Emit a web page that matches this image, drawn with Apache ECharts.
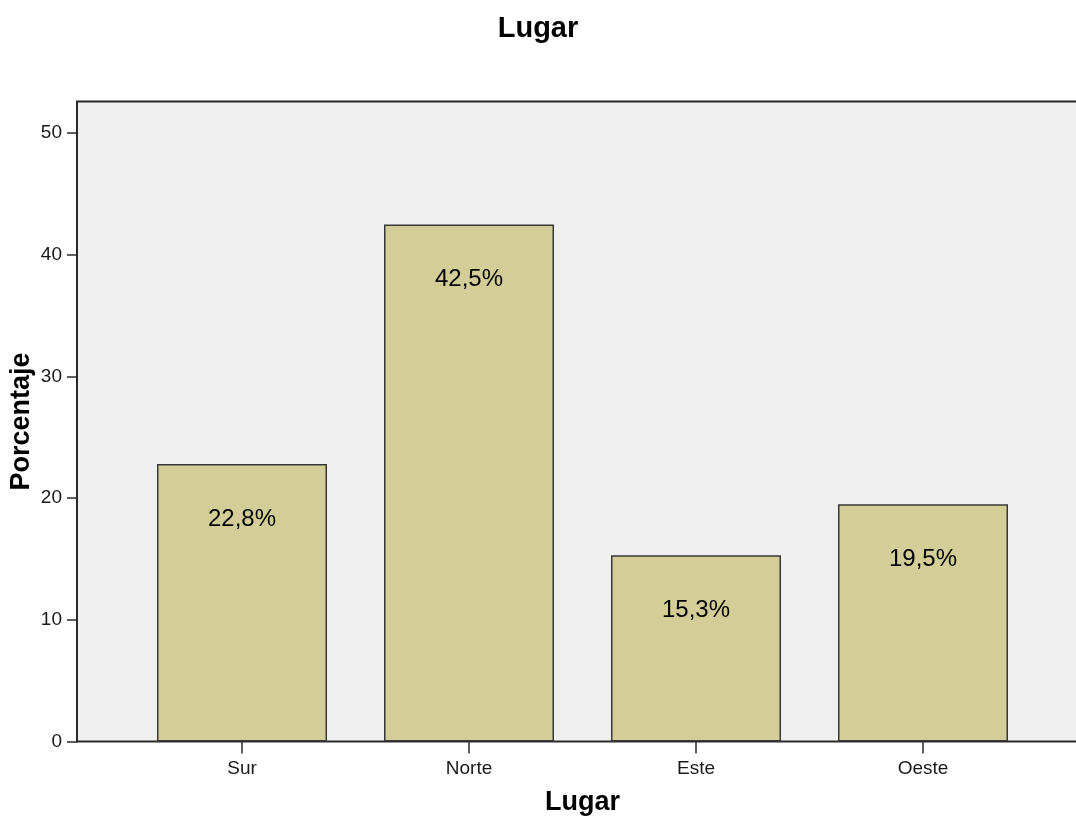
<!DOCTYPE html>
<html>
<head>
<meta charset="utf-8">
<title>Lugar</title>
<script src="https://cdn.jsdelivr.net/npm/echarts@6/dist/echarts.min.js"></script>
<style>
  html, body { margin: 0; padding: 0; background: #ffffff; }
  #chart { width: 1076px; height: 818px; }
</style>
</head>
<body>
<div id="chart"></div>
<script>
// Percentage of cases per place
const categories = ['Sur', 'Norte', 'Este', 'Oeste'];
const percentages = [22.8, 42.5, 15.3, 19.5];
const yTicks = [0, 10, 20, 30, 40, 50];

const FONT = '"Liberation Sans", Arial, sans-serif';
const Y_MAX = 52.6;          // top edge of the plot frame, in percent
const TICK_MAX = 50;         // highest labelled tick
const PLOT_TOP = 101.5;
const PLOT_BOTTOM = 76.5;
const PLOT_HEIGHT = 818 - PLOT_TOP - PLOT_BOTTOM;
// the tick axis stops at 50, so its grid starts lower than the frame
const TICK_TOP = PLOT_TOP + PLOT_HEIGHT * (Y_MAX - TICK_MAX) / Y_MAX;

const chart = echarts.init(document.getElementById('chart'), null, { renderer: 'canvas' });

chart.setOption({
  backgroundColor: '#ffffff',
  animation: false,
  title: {
    text: 'Lugar',
    left: 'center',
    top: 9,
    textStyle: { fontFamily: FONT, fontSize: 29, fontWeight: 'bold', color: '#000' }
  },
  grid: [
    // framed plot area (runs past the right edge of the page)
    {
      left: 77, top: PLOT_TOP, width: 1011, bottom: PLOT_BOTTOM,
      show: true, backgroundColor: '#efefef',
      borderColor: '#2a2a2a', borderWidth: 2,
      outerBoundsMode: 'none', containLabel: false
    },
    // percentage ticks 0..50
    {
      left: 77, top: TICK_TOP, width: 1011, bottom: PLOT_BOTTOM,
      outerBoundsMode: 'none', containLabel: false
    },
    // band holding the four category bars
    {
      left: 128.5, top: PLOT_TOP, width: 908, bottom: PLOT_BOTTOM,
      outerBoundsMode: 'none', containLabel: false
    }
  ],
  xAxis: [
    { type: 'value', gridIndex: 0, min: 0, max: 1, show: false },
    { type: 'value', gridIndex: 1, min: 0, max: 1, show: false },
    {
      type: 'category', gridIndex: 2, data: categories,
      boundaryGap: true,
      axisLine: { show: false },
      axisTick: { show: true, alignWithLabel: true, length: 12, lineStyle: { color: '#2a2a2a', width: 1.5 } },
      axisLabel: { fontFamily: FONT, fontSize: 19, color: '#1a1a1a', margin: 18 },
      name: 'Lugar', nameLocation: 'middle', nameGap: 48,
      nameTextStyle: { fontFamily: FONT, fontSize: 27, fontWeight: 'bold', color: '#000' }
    }
  ],
  yAxis: [
    {
      type: 'value', gridIndex: 0, min: 0, max: Y_MAX,
      axisLine: { show: false }, axisTick: { show: false },
      axisLabel: { show: false }, splitLine: { show: false },
      name: 'Porcentaje', nameLocation: 'middle', nameGap: 42, nameRotate: 90,
      nameTextStyle: { fontFamily: FONT, fontSize: 27, fontWeight: 'bold', color: '#000' }
    },
    {
      type: 'value', gridIndex: 1, min: 0, max: TICK_MAX, interval: 10,
      axisLine: { show: true, lineStyle: { color: '#2a2a2a', width: 2 } },
      axisTick: { show: true, length: 10, lineStyle: { color: '#2a2a2a', width: 1.5 } },
      splitLine: { show: false },
      axisLabel: {
        fontFamily: FONT, fontSize: 19, color: '#1a1a1a', margin: 15,
        formatter: v => (yTicks.indexOf(v) >= 0 ? String(v) : '')
      }
    },
    { type: 'value', gridIndex: 2, min: 0, max: Y_MAX, show: false }
  ],
  series: [
    {
      type: 'bar',
      xAxisIndex: 2, yAxisIndex: 2,
      data: percentages,
      barWidth: 170,
      itemStyle: { color: '#d3ce98', borderColor: '#383838', borderWidth: 1.5 },
      label: {
        show: true, position: 'insideTop', distance: 43,
        fontFamily: FONT, fontSize: 24, color: '#000',
        formatter: p => p.value.toFixed(1).replace('.', ',') + '%'
      }
    }
  ]
});
</script>
</body>
</html>
